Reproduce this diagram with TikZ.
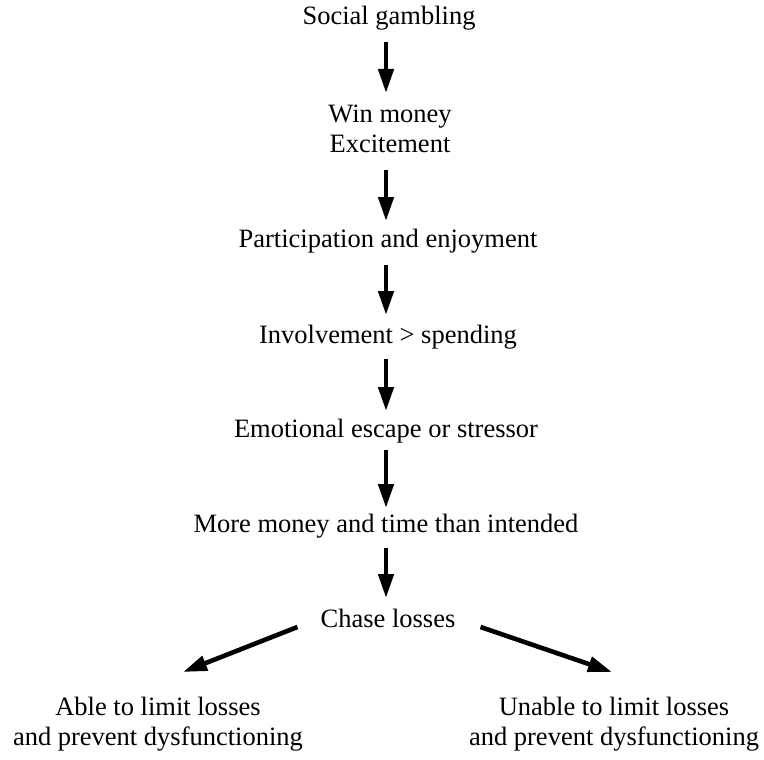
\documentclass[tikz,border=0pt]{standalone}
\usepackage{fontspec}
\setmainfont{Liberation Serif}
\usetikzlibrary{arrows.meta}

\begin{document}
\begin{tikzpicture}[x=1pt,y=-1pt,
    stage/.style={align=center, inner sep=0pt, anchor=base, font=\fontsize{26.5}{30}\selectfont},
    flow/.style={line width=4.6pt, -{Triangle[length=24pt,width=15pt]}},
]
        \useasboundingbox (0,0) rectangle (764,760);
        \coordinate (axis) at (386,0);

        % stages
        \node [stage] (social) at (389,25) {Social gambling};
        \node [stage] (win) at (390,152) {Win money\\Excitement};
        \node [stage] (enjoy) at (388,247) {Participation and enjoyment};
        \node [stage] (involve) at (388,343) {Involvement > spending};
        \node [stage] (escape) at (386,437) {Emotional escape or stressor};
        \node [stage] (more) at (386,532) {More money and time than intended};
        \node [stage] (chase) at (388,627) {Chase losses};

        % outcomes
        \node [stage] (able) at (158,745) {Able to limit losses\\and prevent dysfunctioning};
        \node [stage] (unable) at (614,745) {Unable to limit losses\\and prevent dysfunctioning};

        \draw[flow] ([yshift=-17pt]social.base -| axis) -- ([yshift=59pt]win.base -| axis);
        \draw[flow] ([yshift=-18pt]win.base -| axis) -- ([yshift=26pt]enjoy.base -| axis);
        \draw[flow] ([yshift=-18pt]enjoy.base -| axis) -- ([yshift=28pt]involve.base -| axis);
        \draw[flow] ([yshift=-16pt]involve.base -| axis) -- ([yshift=26pt]escape.base -| axis);
        \draw[flow] ([yshift=-13pt]escape.base -| axis) -- ([yshift=24pt]more.base -| axis);
        \draw[flow] ([yshift=-16pt]more.base -| axis) -- ([yshift=29pt]chase.base -| axis);

        \draw[flow] ([xshift=-23pt]chase.base west) -- ([xshift=25pt,yshift=73pt]able.base);
        \draw[flow] ([xshift=25pt]chase.base east) -- ([xshift=-2pt,yshift=73pt]unable.base);
\end{tikzpicture}
\end{document}
